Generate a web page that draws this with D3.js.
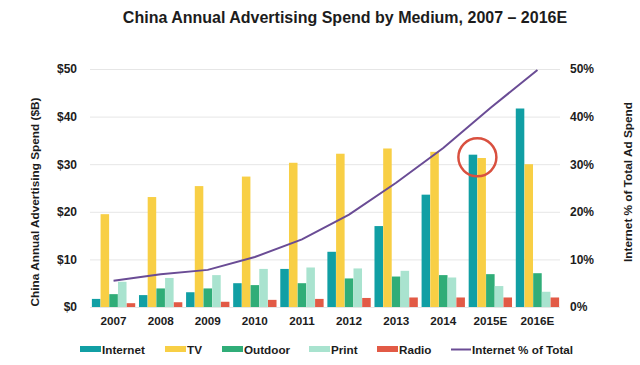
<!DOCTYPE html>
<html>
<head>
<meta charset="utf-8">
<script src="https://cdn.jsdelivr.net/npm/d3@7"></script>
<style>
  html, body { margin: 0; padding: 0; background: #fff; }
  svg { display: block; font-family: "Liberation Sans", Arial, sans-serif; }
</style>
</head>
<body>
<svg id="chart" width="640" height="365"></svg>
<script>
const years = ["2007","2008","2009","2010","2011","2012","2013","2014","2015E","2016E"];
const internet = [1.7, 2.5, 3.1, 5.0, 8.0, 11.6, 17.0, 23.6, 32.0, 41.7];
const tv       = [19.5, 23.1, 25.4, 27.4, 30.3, 32.2, 33.3, 32.6, 31.3, 30.0];
const outdoor  = [2.7, 3.9, 3.9, 4.6, 5.0, 6.0, 6.4, 6.7, 6.9, 7.1];
const print    = [5.3, 6.1, 6.7, 8.0, 8.3, 8.1, 7.6, 6.2, 4.4, 3.2];
const radio    = [0.8, 1.0, 1.1, 1.5, 1.7, 1.9, 2.0, 2.0, 2.0, 2.0];
const internetShare = [5.5, 6.9, 7.8, 10.5, 14.2, 19.4, 26.1, 33.4, 41.8, 49.8];
const leftTicks = [0, 10, 20, 30, 40, 50];
const rightTicks = [0, 10, 20, 30, 40, 50];
const seriesNames = ["Internet", "TV", "Outdoor", "Print", "Radio"];
const seriesValues = [internet, tv, outdoor, print, radio];
const seriesColors = ["#119fa4", "#f8cf45", "#30ad78", "#a9e3cf", "#e25a46"];
const lineName = "Internet % of Total";
const lineColor = "#6a4c95";
const highlightYear = "2015E";

(function () {
const svg = d3.select("#chart");
const pLeft = 90, pRight = 561, pTop = 69, pBottom = 307;
const ink = "#1c1c1c";

const x0 = d3.scaleBand().domain(years).range([pLeft, pRight]).paddingInner(0.08).paddingOuter(0.04);
const x1 = d3.scaleBand().domain(seriesNames).range([0, x0.bandwidth()]).paddingInner(0.02);
const y = d3.scaleLinear().domain([0, 50]).range([pBottom, pTop]);
const yR = d3.scaleLinear().domain([0, 50]).range([pBottom, pTop]);

// gridlines
svg.append("g").selectAll("line").data(leftTicks).join("line")
  .attr("x1", pLeft).attr("x2", pRight - 1)
  .attr("y1", d => y(d) + 0.5).attr("y2", d => y(d) + 0.5)
  .attr("stroke", "#e6e6e6").attr("stroke-width", 1);

// left axis
const yAxis = d3.axisLeft(y).tickValues(leftTicks).tickFormat(d => "$" + d).tickSize(0).tickPadding(0);
const gL = svg.append("g").attr("transform", `translate(77,0)`).call(yAxis);
gL.select(".domain").remove();
gL.selectAll("text").attr("font-size", "12px").attr("font-weight", "bold").attr("fill", ink)
  .attr("font-family", "Liberation Sans, Arial, sans-serif");

// right axis
const yAxisR = d3.axisRight(yR).tickValues(rightTicks).tickFormat(d => d + "%").tickSize(0).tickPadding(0);
const gR = svg.append("g").attr("transform", `translate(570,0)`).call(yAxisR);
gR.select(".domain").remove();
gR.selectAll("text").attr("font-size", "12px").attr("font-weight", "bold").attr("fill", ink)
  .attr("font-family", "Liberation Sans, Arial, sans-serif");

// x axis labels
const xAxis = d3.axisBottom(x0).tickSize(0).tickPadding(0);
const gX = svg.append("g").attr("transform", `translate(0,${pBottom + 10})`).call(xAxis);
gX.select(".domain").remove();
gX.selectAll("text").attr("font-size", "11.7px").attr("font-weight", "bold").attr("fill", ink)
  .attr("font-family", "Liberation Sans, Arial, sans-serif");

// bars
const groups = svg.append("g").selectAll("g").data(years).join("g")
  .attr("transform", d => `translate(${x0(d)},0)`);
groups.selectAll("rect").data((d, i) => seriesNames.map((s, k) => ({ s, k, v: seriesValues[k][i] })))
  .join("rect")
  .attr("x", d => x1(d.s))
  .attr("width", x1.bandwidth())
  .attr("y", d => y(d.v))
  .attr("height", d => y(0) - y(d.v))
  .attr("fill", d => seriesColors[d.k]);

// line
const line = d3.line().x((d, i) => x0(years[i]) + x0.bandwidth() / 2).y(d => yR(d));
svg.append("path").datum(internetShare).attr("d", line)
  .attr("fill", "none").attr("stroke", lineColor).attr("stroke-width", 2);

// highlight circle around 2015E internet/TV tops
const hi = years.indexOf(highlightYear);
const cx = x0(highlightYear) + x1("TV");
const cy = y((internet[hi] + tv[hi]) / 2) + 1;
svg.append("circle").attr("cx", cx).attr("cy", cy).attr("r", 19)
  .attr("fill", "none").attr("stroke", "#d9503f").attr("stroke-width", 2.5);

// title
svg.append("text").attr("x", 345).attr("y", 23).attr("text-anchor", "middle")
  .attr("font-size", "16px").attr("font-weight", "bold").attr("fill", ink)
  .text("China Annual Advertising Spend by Medium, 2007 – 2016E");

// axis titles
svg.append("text").attr("transform", "translate(39,202) rotate(-90)").attr("text-anchor", "middle")
  .attr("font-size", "11.8px").attr("font-weight", "bold").attr("fill", ink)
  .text("China Annual Advertising Spend ($B)");
svg.append("text").attr("transform", "translate(632,182) rotate(-90)").attr("text-anchor", "middle")
  .attr("font-size", "11.8px").attr("font-weight", "bold").attr("fill", ink)
  .text("Internet % of Total Ad Spend");

// legend
const legendX = [80, 165, 222, 309, 377];
const leg = svg.append("g");
seriesNames.forEach((s, k) => {
  leg.append("rect").attr("x", legendX[k]).attr("y", 346).attr("width", 21).attr("height", 6).attr("fill", seriesColors[k]);
  leg.append("text").attr("x", legendX[k] + 22).attr("y", 353.5).attr("font-size", "11.7px")
    .attr("font-weight", "bold").attr("fill", ink).text(s);
});
leg.append("line").attr("x1", 451).attr("x2", 471).attr("y1", 349.5).attr("y2", 349.5)
  .attr("stroke", lineColor).attr("stroke-width", 2);
leg.append("text").attr("x", 472).attr("y", 353.5).attr("font-size", "11.7px")
  .attr("font-weight", "bold").attr("fill", ink).text(lineName);
})();
</script>
</body>
</html>
